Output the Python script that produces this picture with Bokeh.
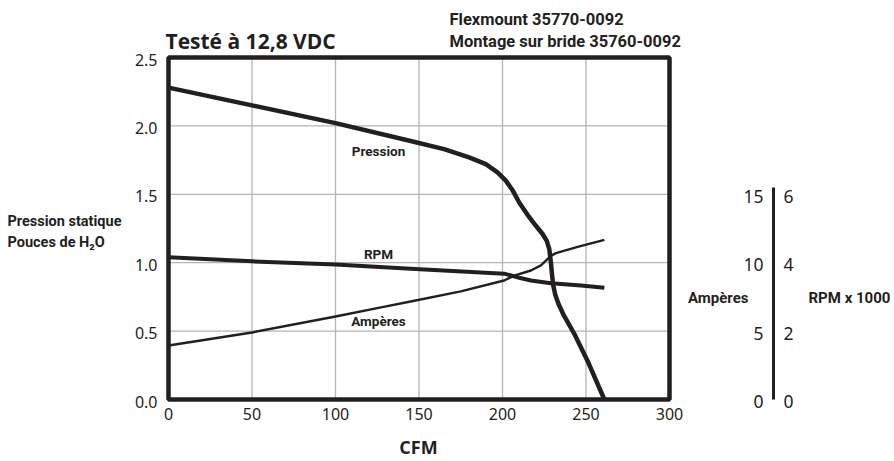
from bokeh.plotting import figure
from bokeh.models import Range1d, Label, BoxAnnotation
from bokeh.embed import file_html
from bokeh.resources import INLINE

# ---------------- data ----------------
pression_cfm = [0, 50, 100, 145, 165, 180, 190, 197, 202, 206, 210, 215, 220, 224, 226.5, 228, 229, 229.6, 230.3, 231.5, 233.5, 236.5, 243, 251, 261]
pression_inh2o = [2.28, 2.15, 2.02, 1.89, 1.83, 1.77, 1.72, 1.66, 1.60, 1.53, 1.44, 1.35, 1.27, 1.21, 1.16, 1.10, 1.00, 0.92, 0.84, 0.77, 0.70, 0.62, 0.48, 0.28, 0.0]

rpm_cfm = [0, 50, 100, 145, 201, 210, 217, 229, 247, 261]
rpm_k = [4.16, 4.04, 3.95, 3.82, 3.68, 3.56, 3.48, 3.40, 3.33, 3.27]

amps_cfm = [0, 50, 100, 128, 145, 175, 201, 207, 217, 223, 229, 232, 245, 261]
amps_a = [3.95, 4.90, 6.07, 6.75, 7.16, 7.90, 8.70, 9.06, 9.43, 9.80, 10.50, 10.70, 11.15, 11.67]

x_ticks = [0, 50, 100, 150, 200, 250, 300]
x_tick_labels = ["0", "50", "100", "150", "200", "250", "300"]
y_ticks = [0.0, 0.5, 1.0, 1.5, 2.0, 2.5]
y_tick_labels = ["0.0", "0.5", "1.0", "1.5", "2.0", "2.5"]
amp_ticks = [0, 5, 10, 15]
amp_tick_labels = ["0", "5", "10", "15"]
rpm_ticks = [0, 2, 4, 6]
rpm_tick_labels = ["0", "2", "4", "6"]

AMPS_PER_UNIT = 10   # 10 A sits on the 1.0 line
RPM_PER_UNIT = 4     # 4 (x1000) sits on the 1.0 line

# ---------------- styling / geometry ----------------
INK = "#231f20"
GRID = "#b5b5b5"
COND = "Roboto"
TICKF = "Noto Sans"
W, H = 894, 461
FX0, FX1 = 168, 669   # pixel columns of the first / last x tick
FY0, FY1 = 399, 57    # pixel rows of the first / last y tick
AXIS2_PX = 773        # pixel column of the Ampères / RPM scale
LABEL_SHIFT = 6       # labels render a little below their anchor

xs = (FX1 - FX0) / (x_ticks[-1] - x_ticks[0])
ys = (FY0 - FY1) / (y_ticks[-1] - y_ticks[0])
def px2x(px):
    return x_ticks[0] + (px - FX0) / xs
def px2y(py):
    return y_ticks[0] + (FY0 - py) / ys

y0, y1 = px2y(H), px2y(0)
p = figure(width=W, height=H, x_range=Range1d(px2x(0), px2x(W)), y_range=Range1d(y0, y1),
           output_backend="svg", toolbar_location=None,
           x_axis_location=None, y_axis_location=None, min_border=0,
           outline_line_color=None, background_fill_color="white", border_fill_color="white")
p.grid.visible = False
p.extra_y_ranges = {"amps": Range1d(y0 * AMPS_PER_UNIT, y1 * AMPS_PER_UNIT),
                    "rpm": Range1d(y0 * RPM_PER_UNIT, y1 * RPM_PER_UNIT)}

# grid lines
inner_x = x_ticks[1:-1]
inner_y = y_ticks[1:-1]
p.segment(x0=inner_x, y0=[y_ticks[0]] * len(inner_x), x1=inner_x, y1=[y_ticks[-1]] * len(inner_x),
          line_color=GRID, line_width=1.3)
p.segment(x0=[x_ticks[0]] * len(inner_y), y0=inner_y, x1=[x_ticks[-1]] * len(inner_y), y1=inner_y,
          line_color=GRID, line_width=1.3)

# curves
p.line(pression_cfm, pression_inh2o, line_color=INK, line_width=4.5, line_join="round")
p.line(rpm_cfm, rpm_k, y_range_name="rpm", line_color=INK, line_width=4, line_join="round")
p.line(amps_cfm, amps_a, y_range_name="amps", line_color=INK, line_width=2.4, line_join="round")

# frame
p.add_layout(BoxAnnotation(left=x_ticks[0], right=x_ticks[-1], bottom=y_ticks[0], top=y_ticks[-1],
                           fill_alpha=0, line_color=INK, line_alpha=1.0, line_width=4.5))

# tick labels of the main scales
p.text(x=x_ticks, y=[y_ticks[0]] * len(x_ticks), text=x_tick_labels, y_offset=14,
       text_align="center", text_baseline="middle", text_font={"value": TICKF},
       text_font_size="16px", text_color=INK)
p.text(x=[x_ticks[0]] * len(y_ticks), y=y_ticks, text=y_tick_labels, x_offset=-11, y_offset=2,
       text_align="right", text_baseline="middle", text_font={"value": TICKF},
       text_font_size="16px", text_color=INK)

# secondary scale: Ampères (left of the line) / RPM x 1000 (right of the line)
ax2 = px2x(AXIS2_PX)
p.segment(x0=[ax2], y0=[amp_ticks[0]], x1=[ax2], y1=[amp_ticks[-1] + 0.5], y_range_name="amps",
          line_color=INK, line_width=3)
p.text(x=[ax2] * len(amp_ticks), y=amp_ticks, text=amp_tick_labels, y_range_name="amps",
       x_offset=-10, y_offset=2, text_align="right", text_baseline="middle",
       text_font={"value": TICKF}, text_font_size="17.5px", text_color=INK)
p.text(x=[ax2] * len(rpm_ticks), y=rpm_ticks, text=rpm_tick_labels, y_range_name="rpm",
       x_offset=10, y_offset=2, text_align="left", text_baseline="middle",
       text_font={"value": TICKF}, text_font_size="17.5px", text_color=INK)

def lab(xpx, ypx, text, size, font=COND, align="left"):
    p.add_layout(Label(x=px2x(xpx), y=px2y(ypx - LABEL_SHIFT), text=text, text_font=font,
                       text_font_size=size, text_font_style="bold", text_color=INK,
                       text_align=align, text_baseline="alphabetic"))

# curve names
lab(378, 156, "Pression", "13.5px", align="center")
lab(378, 259, "RPM", "13.5px", align="center")
lab(378, 326.5, "Ampères", "13.5px", align="center")

# titles
lab(165, 46.5, "Testé à 12,8 VDC", "21px", font="Open Sans")
lab(449, 25, "Flexmount 35770-0092", "16.5px")
lab(449, 46.5, "Montage sur bride 35760-0092", "16.5px")

# left axis title
lab(7, 226.5, "Pression statique", "14.5px")
lab(7, 248, "Pouces de H₂O", "14.5px")

# x axis title
lab(418, 452, "CFM", "18px", font="Open Sans", align="center")

# secondary axis titles
lab(748, 303, "Ampères", "15px", align="right")
lab(808, 303, "RPM x 1000", "15px", align="left")

open("out.html", "w").write(file_html(p, INLINE))
